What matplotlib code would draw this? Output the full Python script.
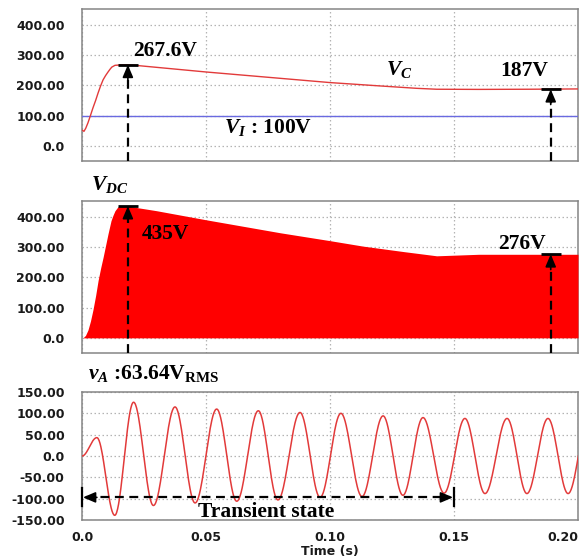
import numpy as np
import matplotlib
matplotlib.use("Agg")
import matplotlib.pyplot as plt

# ---------------- data ----------------
# Capacitor voltage V_C (time in s, volts)
vc_t = [0.0, 0.0008, 0.0015, 0.0024, 0.0034, 0.0044, 0.0055, 0.0065, 0.0075, 0.0085,
        0.0095, 0.0105, 0.0113, 0.012, 0.0133, 0.016,
        0.0185, 0.0214, 0.05, 0.08, 0.10, 0.12, 0.135, 0.143, 0.16, 0.18, 0.20]
vc_v = [52, 48, 58, 76, 100, 125, 150, 175, 198, 218,
        232, 244, 253, 260, 266, 267.5,
        267.6, 266, 244, 223, 209, 198, 190, 187, 186.5, 187, 188]

# Input voltage
vi_level = 100

# DC-link voltage envelope V_DC
vdc_t = [0.0, 0.0004, 0.0014, 0.0024, 0.0034, 0.0044, 0.0055, 0.0065, 0.0075, 0.0085,
         0.0095, 0.0105, 0.0117, 0.0125, 0.0133, 0.0145, 0.016, 0.0185,
         0.03, 0.05, 0.08, 0.10, 0.1133, 0.1296, 0.143, 0.16, 0.18, 0.20]
vdc_v = [0, 0, 8, 26, 55, 92, 140, 190, 230, 266,
         305, 344, 387, 405, 420, 433, 434, 435,
         420, 390, 347, 321, 303, 285, 271, 276, 276, 276]

# Output voltage v_A: successive extrema (time, value)
va_t = [0.0, 0.006, 0.0132, 0.0208, 0.0288, 0.0375, 0.0456, 0.0543, 0.0624,
        0.0711, 0.079, 0.0879, 0.096, 0.1044, 0.1129, 0.1214, 0.1294, 0.1375,
        0.146, 0.1544, 0.1625, 0.1714, 0.1794, 0.1879, 0.196, 0.2043]
va_v = [0, 43, -139, 126, -116, 115, -110, 110, -106,
        106, -103, 102, -97, 100, -95, 94, -92, 90,
        -87, 88, -88, 88, -88, 88, -88, 88]

# Marked values
vc_peak_t, vc_peak = 0.0185, 267.6
vc_ss_t, vc_ss = 0.189, 187
vdc_peak_t, vdc_peak = 0.0185, 435
vdc_ss_t, vdc_ss = 0.189, 276
transient_end = 0.15

x_ticks = [0.0, 0.05, 0.10, 0.15, 0.20]
x_ticklabels = ["0.0", "0.05", "0.10", "0.15", "0.20"]
y_ticks_dc = [0, 100, 200, 300, 400]
y_ticklabels_dc = ["0.0", "100.00", "200.00", "300.00", "400.00"]
y_ticks_ac = [-150, -100, -50, 0, 50, 100, 150]
y_ticklabels_ac = ["-150.00", "-100.00", "-50.00", "0.0", "50.00", "100.00", "150.00"]

# ---------------- style ----------------
plt.rcParams["mathtext.fontset"] = "custom"
plt.rcParams["mathtext.it"] = "Liberation Serif:italic:bold"
plt.rcParams["mathtext.rm"] = "Liberation Serif:bold"
plt.rcParams["mathtext.bf"] = "Liberation Serif:bold"

SERIF = dict(family="Liberation Serif", weight="bold", size=15.5, color="black")
RED_LINE = "#e23a3a"
FRAME = "#858585"
GRID = "#b4b4b4"
TICK_COLOR = "#1a1a1a"

fig = plt.figure(figsize=(5.83, 5.57), dpi=100)
W, H = 583.0, 557.0
left, right = 82, 578


def make_ax(top, bottom):
    return fig.add_axes([left / W, 1 - bottom / H, (right - left) / W, (bottom - top) / H])


ax1 = make_ax(9, 161)
ax2 = make_ax(201, 353)
ax3 = make_ax(392, 520)

for ax in (ax1, ax2, ax3):
    ax.set_xlim(0, 0.2)
    ax.set_xticks(x_ticks)
    for s in ax.spines.values():
        s.set_color(FRAME)
        s.set_linewidth(1.1)
    ax.grid(True, color=GRID, linestyle=(0, (1.2, 2.0)), linewidth=0.9)
    ax.set_axisbelow(True)
    ax.tick_params(length=0, pad=12.5, labelsize=9)

for ax in (ax1, ax2):
    ax.set_ylim(-50, 452)
    ax.set_yticks(y_ticks_dc)
    ax.set_yticklabels(y_ticklabels_dc, fontsize=9, fontweight="bold", color=TICK_COLOR)
    ax.set_xticklabels([])

ax3.set_ylim(-150, 150)
ax3.set_yticks(y_ticks_ac)
ax3.set_yticklabels(y_ticklabels_ac, fontsize=9, fontweight="bold", color=TICK_COLOR)
ax3.set_xticklabels(x_ticklabels, fontsize=9, fontweight="bold", color=TICK_COLOR)
ax3.tick_params(axis="x", pad=8)
ax3.get_xticklabels()[-1].set_horizontalalignment("right")
ax3.set_xlabel("Time (s)", fontsize=9, fontweight="bold", labelpad=1, color=TICK_COLOR)


def marker_arrow(ax, t, v, bottom):
    """Dashed vertical arrow from the axis bottom up to a level, with a cap bar."""
    ax.plot([t, t], [bottom, v], color="black", lw=1.6, dashes=(4, 2.5), zorder=5,
            clip_on=False)
    ax.annotate("", xy=(t, v), xytext=(0, -11), textcoords="offset points",
                arrowprops=dict(arrowstyle="-|>,head_length=0.75,head_width=0.32",
                                color="black", lw=1.2, shrinkA=0, shrinkB=0),
                zorder=6)
    ax.plot([t - 0.004, t + 0.004], [v, v], color="black", lw=2.0,
            solid_capstyle="butt", zorder=6)


# ---------------- panel 1: V_C and V_I ----------------
ax1.axhline(vi_level, color="#6a6ae0", lw=1.0, zorder=3)
ax1.plot(vc_t, vc_v, color=RED_LINE, lw=1.0, zorder=4)
marker_arrow(ax1, vc_peak_t, vc_peak, -50)
marker_arrow(ax1, vc_ss_t, vc_ss, -50)
ax1.text(0.0206, 297, f"{vc_peak}V", **SERIF)
ax1.text(0.1685, 231, f"{vc_ss}V", **SERIF)
ax1.text(0.1226, 234, r"$V_C$", **SERIF)
ax1.text(0.0573, 43, r"$V_I$ : " + f"{vi_level}V", **SERIF)

# ---------------- panel 2: V_DC ----------------
ax2.fill_between(vdc_t, 0, vdc_v, color="#ff0000", lw=0, zorder=3)
marker_arrow(ax2, vdc_peak_t, vdc_peak, -50)
marker_arrow(ax2, vdc_ss_t, vdc_ss, -50)
ax2.text(0.0242, 328, f"{vdc_peak}V", **SERIF)
ax2.text(0.1677, 292, f"{vdc_ss}V", **SERIF)
ax2.text(0.0036, 487, r"$V_{DC}$", clip_on=False, **SERIF)

# ---------------- panel 3: v_A ----------------
# smooth half-cosine swing between consecutive extrema
seg_t, seg_v = [], []
for i in range(len(va_t) - 1):
    s = np.linspace(0, 1, 40, endpoint=False)
    seg_t.append(va_t[i] + (va_t[i + 1] - va_t[i]) * s)
    seg_v.append(va_v[i] + (va_v[i + 1] - va_v[i]) * (1 - np.cos(np.pi * s)) / 2)
wave_t = np.concatenate(seg_t + [[va_t[-1]]])
wave_v = np.concatenate(seg_v + [[va_v[-1]]])
ax3.plot(wave_t, wave_v, color=RED_LINE, lw=1.1, zorder=4)

y_tr = -97
ax3.plot([0.0015, transient_end - 0.0015], [y_tr, y_tr], color="black", lw=1.6,
         dashes=(4, 2.5), zorder=5)
for x_tip, x_tail in ((0.0004, 0.006), (transient_end - 0.0004, transient_end - 0.006)):
    ax3.annotate("", xy=(x_tip, y_tr), xytext=(x_tail, y_tr),
                 arrowprops=dict(arrowstyle="-|>,head_length=0.75,head_width=0.32",
                                 color="black", lw=1.2, shrinkA=0, shrinkB=0),
                 zorder=6)
for xb in (0.0, transient_end):
    ax3.plot([xb, xb], [y_tr - 21, y_tr + 21], color="black", lw=1.6, zorder=6,
             clip_on=False)
ax3.text(0.0468, -142, "Transient state", **SERIF)
ax3.text(0.0024, 180, r"$v_A$ :63.64V$_{\rm RMS}$", clip_on=False, **SERIF)

fig.savefig("out.png", dpi=100)
